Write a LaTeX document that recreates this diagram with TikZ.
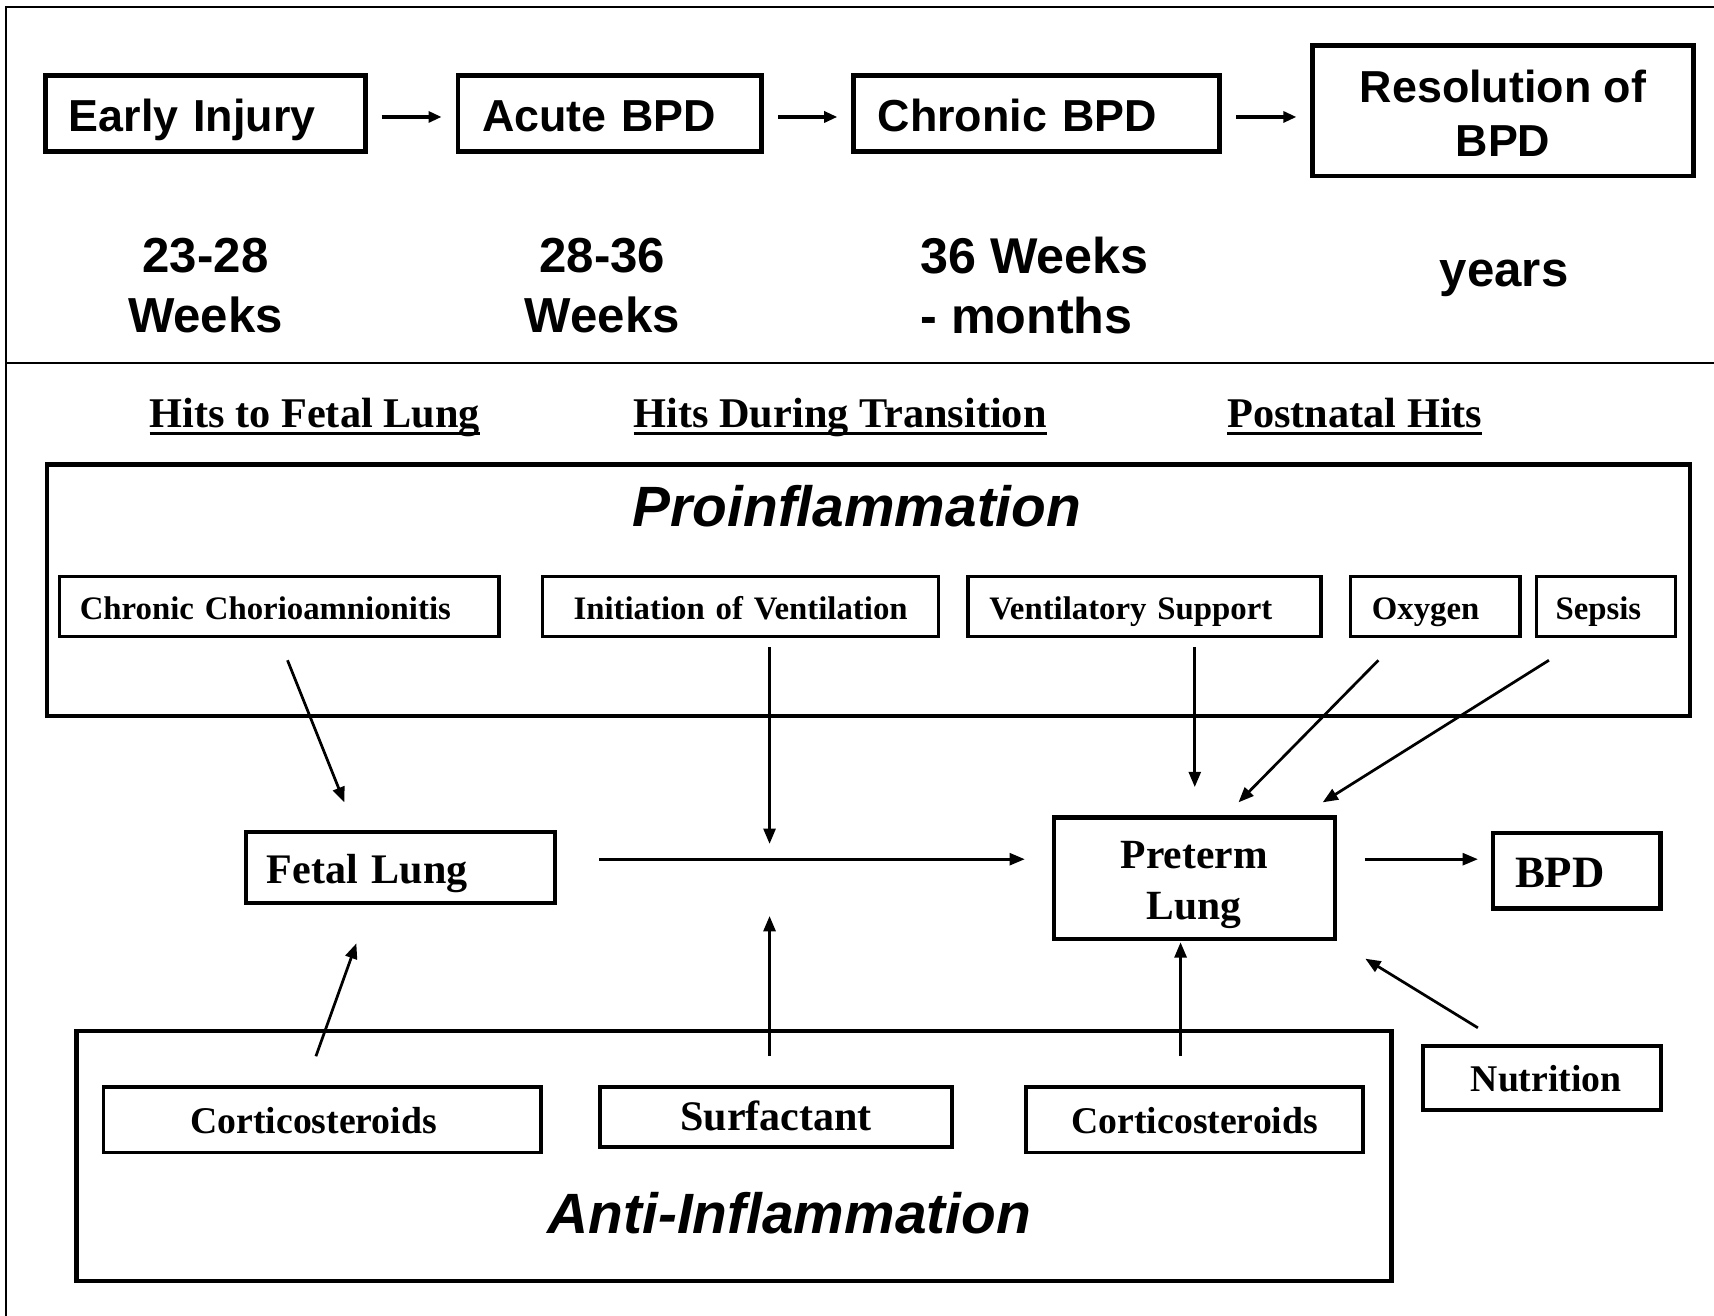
\documentclass[tikz,border=0pt]{standalone}
\usepackage{fontspec}
\setmainfont{Liberation Serif}
\newfontfamily\arialf{Liberation Sans}
\usetikzlibrary{arrows.meta,calc}
\newcommand\myul[1]{\setbox0\hbox{#1}\rlap{\rule[-6.5pt]{\wd0}{2.5pt}}\box0}
\begin{document}
\begin{tikzpicture}[x=1pt,y=-1pt,
  every node/.style={outer sep=0pt},
  frame/.style={line width=2.5pt},
  tb/.style={draw, line width=4.5pt, inner ysep=0pt, minimum height=70pt, align=left,
    font=\arialf\bfseries\fontsize{41}{50}\selectfont, text height=33pt, text depth=0pt},
  wk/.style={inner sep=0pt, align=center, font=\arialf\bfseries\fontsize{45}{55}\selectfont},
  hd/.style={inner sep=0pt, anchor=base, font=\bfseries\fontsize{38.7}{46}\selectfont},
  bigbox/.style={draw, line width=4pt, inner sep=0pt},
  ib/.style={draw, line width=3pt, minimum height=55pt, inner ysep=0pt, align=left,
    font=\bfseries\fontsize{30}{36}\selectfont, text height=24pt, text depth=0pt},
  bb/.style={draw, line width=3.5pt, inner sep=0pt, align=center,
    font=\bfseries\fontsize{34.5}{42}\selectfont, text height=25pt, text depth=0pt},
  tarr/.style={line width=3pt, -{Triangle[length=12pt,width=10pt]}, shorten <=15pt, shorten >=15pt},
  arr/.style={line width=2.5pt, -{Triangle[length=14pt,width=11pt]}}
]
\useasboundingbox (0,0) rectangle (1568,1203);
% frame
\draw[frame] (1570,6.5) -- (5.5,6.5) -- (5.5,1206);
\draw[frame] (5.5,332) -- (1570,332);

% top timeline
\node[tb, text width=250pt, inner xsep=21pt] (ei) at (188,104) {Early Injury};
\node[tb, text width=234pt, inner xsep=22pt] (acute) at (558,104) {Acute BPD};
\node[tb, text width=291pt, inner xsep=22pt] (chronic) at (948.5,104) {Chronic BPD};
\node[draw, line width=4.5pt, inner sep=0pt, align=center, minimum width=348pt, minimum height=119pt,
  font=\arialf\bfseries\fontsize{41}{50}\selectfont] (res) at (1375,101.5) {\rule{0pt}{34pt}Resolution of\\BPD};
\draw[tarr] ($(ei.east)+(0,3)$) -- ($(acute.west)+(0,3)$);
\draw[tarr] ($(acute.east)+(0,3)$) -- ($(chronic.west)+(0,3)$);
\draw[tarr] ($(chronic.east)+(0,3)$) -- ($(res.west)+(0,5.5)$);

\node[wk] (w1) at (188,261.5) {23-28\\Weeks};
\node[wk] (w2) at (551,261.5) {28-36\\Weeks};
\node[wk, align=left, anchor=west, font=\arialf\bfseries\fontsize{46}{55}\selectfont] (w3) at (842,261.5) {36 Weeks\\- months};
\node[wk, anchor=base] (w4) at (1376,262) {years};

% headings
\node[hd] (h1) at (288,391) {\myul{Hits to Fetal Lung}};
\node[hd] (h2) at (768.5,391) {\myul{Hits During Transition}};
\node[hd] (h3) at (1239.5,391) {\myul{Postnatal Hits}};

% proinflammation
\node[bigbox, minimum width=1503pt, minimum height=230pt] (pro) at (794.5,540) {};
\node[inner sep=0pt, anchor=base, font=\arialf\bfseries\itshape\fontsize{52}{60}\selectfont] (protxt) at (784,482) {Proinflammation};
\node[ib, text width=365pt, inner xsep=18.5pt] (cc) at (255.5,555) {Chronic Chorioamnionitis};
\node[ib, text width=342pt, inner xsep=10pt, align=center] (iv) at (677.5,555) {Initiation of Ventilation};
\node[ib, text width=284pt, inner xsep=19.5pt] (vs) at (1047,555) {Ventilatory Support};
\node[ib, text width=116pt, inner xsep=19.5pt] (ox) at (1313,555) {Oxygen};
\node[ib, text width=92pt, inner xsep=17.5pt] (se) at (1469,555) {Sepsis};

% lungs
\node[draw, line width=4pt, minimum height=65pt, inner ysep=0pt, inner xsep=19pt, text width=245pt, align=left,
  font=\bfseries\fontsize{38.5}{46}\selectfont, text height=29pt, text depth=0pt] (fl) at (366.5,793.5) {Fetal Lung};
\node[draw, line width=4pt, minimum width=257pt, minimum height=111pt, inner sep=0pt, align=center,
  font=\bfseries\fontsize{38}{46}\selectfont] (pl) at (1092.5,803.5) {\rule{0pt}{37pt}Preterm\\Lung};
\node[draw, line width=4pt, minimum height=69pt, inner ysep=0pt, inner xsep=20pt, text width=113pt, align=left,
  font=\bfseries\fontsize{41}{48}\selectfont, text height=31pt, text depth=0pt] (bpd) at (1442.5,796.5) {BPD};
\coordinate (jn) at (704,786);

% anti-inflammation
\node[bigbox, minimum width=1203pt, minimum height=229pt] (ai) at (671.5,1057.5) {};
\node[inner sep=0pt, anchor=base, font=\arialf\bfseries\itshape\fontsize{52}{60}\selectfont] (aitxt) at (722,1128) {Anti-Inflammation};
\node[bb, minimum width=400.5pt, minimum height=59.5pt] (co1) at (295,1024.5) {\hspace*{-16pt}Corticosteroids};
\node[bb, minimum width=322pt, minimum height=54.5pt, font=\bfseries\fontsize{38.5}{46}\selectfont, text height=25.5pt, text depth=1.5pt] (sf) at (710,1022) {Surfactant};
\node[bb, minimum width=308.5pt, minimum height=59.5pt] (co2) at (1093,1024.5) {Corticosteroids};
\node[bb, minimum width=217.5pt, minimum height=58.5pt] (nu) at (1410.5,986) {\hspace*{8pt}Nutrition};

% arrows
\draw[arr] ($(cc.south)+(7.5,21.5)$) -- ($(fl.north)+(-51.5,-27)$);
\draw[arr] ($(iv.south)+(26.5,9.5)$) -- ($(jn)+(0,-14)$);
\draw[arr] ($(vs.south)+(46,9.5)$) -- ($(pl.north)+(0.5,-28)$);
\draw[arr] ($(ox.south)+(-52,21.5)$) -- ($(pl.north)+(40.5,-14)$);
\draw[arr] ($(se.south)+(-52,21.5)$) -- ($(pl.north)+(117.5,-14)$);
\draw[arr] ($(fl.east)+(40,-7.5)$) -- ($(pl.west)+(-26.5,-17.5)$);
\draw[arr] ($(pl.east)+(27.5,-17.5)$) -- ($(bpd.west)+(-14,-10.5)$);
\draw[arr] ($(sf.north)+(-6,-28.5)$) -- ($(jn)+(0,52)$);
\draw[arr] ($(co1.north)+(-6,-28.5)$) -- ($(fl.south)+(-40.5,37)$);
\draw[arr] ($(co2.north)+(-13,-28.5)$) -- ($(pl.south)+(-12.5,3)$);
\draw[arr] ($(nu.north)+(-58.5,-16.5)$) -- ($(pl.south east)+(28,18)$);
\end{tikzpicture}
\end{document}
